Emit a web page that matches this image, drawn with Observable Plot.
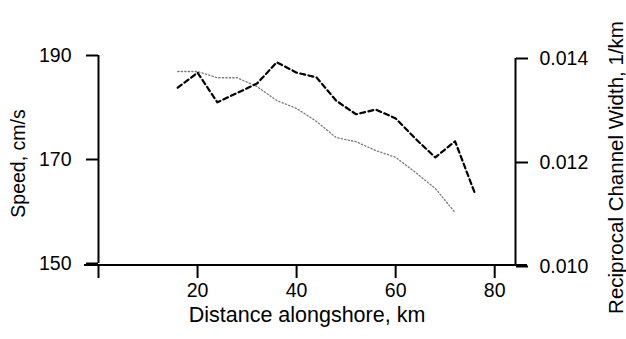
<!DOCTYPE html>
<html><head><meta charset="utf-8">
<script src="https://cdn.jsdelivr.net/npm/d3@7"></script>
<script src="https://cdn.jsdelivr.net/npm/@observablehq/plot@0.6"></script>
<style>
body{margin:0;background:#fff}
svg{font-family:"Liberation Sans",Arial,Helvetica,sans-serif}
</style>
</head><body><div id="chart"></div>
<script>
// Speed (left axis), dashed line
const speedDistance = [16, 20, 24, 32, 36, 40, 44, 48, 52, 56, 60, 64, 68, 72, 76];
const speedValues   = [183.8, 186.7, 181.0, 184.6, 188.7, 186.7, 185.8, 181.3, 178.7, 179.6, 177.9, 174.0, 170.4, 173.5, 163.5];
// Reciprocal channel width (right axis), dotted line
const widthDistance = [16, 20, 24, 28, 32, 36, 40, 44, 48, 52, 56, 60, 64, 68, 72];
const widthValues   = [0.01375, 0.01375, 0.01363, 0.01363, 0.01346, 0.01319, 0.01304, 0.01279, 0.01248, 0.01240, 0.01223, 0.01210, 0.01181, 0.01150, 0.01104];
// Axes
const xTicks = [0, 20, 40, 60, 80];
const xTickLabels = ["", "20", "40", "60", "80"];
const speedTicks = [150, 170, 190];
const widthTicks = [0.010, 0.012, 0.014];
const xDomain = [0, 84.2];
const speedDomain = [150, 190];
const widthDomain = [0.010, 0.014];
const xLabel = "Distance alongshore, km";
const leftLabel = "Speed, cm/s";
const rightLabel = "Reciprocal Channel Width, 1/km";

const toSpeed = d3.scaleLinear(widthDomain, speedDomain);
const speedData = speedDistance.map((d, i) => ({x: d, y: speedValues[i]}));
const widthData = widthDistance.map((d, i) => ({x: d, y: toSpeed(widthValues[i])}));

const chart = Plot.plot({
  width: 626,
  height: 339,
  marginLeft: 98,
  marginRight: 111,
  marginTop: 55,
  marginBottom: 76,
  style: {fontSize: "19.5px", fontFamily: "'Liberation Sans', Arial, Helvetica, sans-serif", color: "#000", background: "#fff"},
  x: {domain: xDomain},
  y: {domain: speedDomain},
  marks: [
    Plot.line(widthData, {x: "x", y: "y", stroke: "#7a7a7a", strokeWidth: 1.3, strokeDasharray: "1.3,2.2", dy: 3}),
    Plot.line(speedData, {x: "x", y: "y", stroke: "#000", strokeWidth: 2.2, strokeDasharray: "5,3.4"}),
    Plot.ruleY([speedDomain[0]], {stroke: "#000", strokeWidth: 2, dy: 1.5, insetLeft: -14, insetRight: -12}),
    Plot.ruleX([xDomain[0]], {stroke: "#000", strokeWidth: 2}),
    Plot.ruleX([xDomain[1]], {stroke: "#000", strokeWidth: 2, dy: 3}),
    Plot.axisX(xTicks, {anchor: "bottom", tickSize: 13, tickPadding: 5, strokeWidth: 2, dy: 2, fontSize: 19.5, tickFormat: (d, i) => xTickLabels[i], label: null}),
    Plot.axisY(speedTicks, {anchor: "left", tickSize: 12, tickPadding: 15, strokeWidth: 2, fontSize: 19.5, tickFormat: d3.format("d"), label: null}),
    Plot.axisY(widthTicks.map(toSpeed), {anchor: "right", tickSize: 12, tickPadding: 12, strokeWidth: 2, dy: 3, fontSize: 19.5, tickFormat: d => d3.format(".3f")(toSpeed.invert(d)), label: null}),
    Plot.text([xLabel], {frameAnchor: "bottom", dy: 58, fontSize: 21.5, fill: "#000"}),
    Plot.text([leftLabel], {frameAnchor: "left", textAnchor: "middle", rotate: -90, dx: -80, dy: 4, fontSize: 19.5, fill: "#000"}),
    Plot.text([rightLabel], {frameAnchor: "right", textAnchor: "middle", rotate: -90, dx: 101, dy: 8, fontSize: 20.5, fill: "#000"})
  ]
});
document.getElementById("chart").appendChild(chart);
</script>
</body></html>
